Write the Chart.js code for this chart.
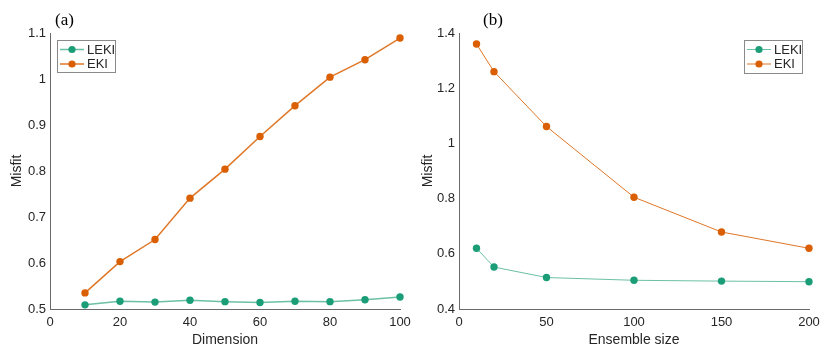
<!DOCTYPE html>
<html>
<head>
<meta charset="utf-8">
<script src="https://cdn.jsdelivr.net/npm/chart.js@4.4.0/dist/chart.umd.min.js"></script>
<style>
  html, body { margin: 0; padding: 0; background: #fff; }
  #wrap { position: relative; width: 831px; height: 355px; }
  .pane { position: absolute; top: 0; height: 355px; }
  #pa { left: 0; width: 420px; }
  #pb { left: 420px; width: 411px; }
</style>
</head>
<body>
<div id="wrap">
  <div class="pane" id="pa"><canvas id="ca" width="420" height="355"></canvas></div>
  <div class="pane" id="pb"><canvas id="cb" width="411" height="355"></canvas></div>
</div>
<script>
// ---- Data (a) ----
const dimX = [10, 20, 30, 40, 50, 60, 70, 80, 90, 100];
const dimLEKI = [0.509, 0.517, 0.515, 0.519, 0.516, 0.514, 0.517, 0.516, 0.520, 0.526];
const dimEKI = [0.535, 0.603, 0.651, 0.741, 0.804, 0.875, 0.942, 1.004, 1.042, 1.089];
const aXTicks = [0, 20, 40, 60, 80, 100];
const aYTicks = [0.5, 0.6, 0.7, 0.8, 0.9, 1.0, 1.1];
const aYLabels = ['0.5', '0.6', '0.7', '0.8', '0.9', '1', '1.1'];

// ---- Data (b) ----
const ensX = [10, 20, 50, 100, 150, 200];
const ensLEKI = [0.620, 0.552, 0.514, 0.504, 0.501, 0.499];
const ensEKI = [1.360, 1.260, 1.061, 0.805, 0.679, 0.620];
const bXTicks = [0, 50, 100, 150, 200];
const bYTicks = [0.4, 0.6, 0.8, 1.0, 1.2, 1.4];
const bYLabels = ['0.4', '0.6', '0.8', '1', '1.2', '1.4'];

const seriesNames = ['LEKI', 'EKI'];
const GREEN = '#1b9e77', GREEN_LINE = 'rgba(27,158,119,0.65)';
const ORANGE = '#d95f02', ORANGE_LINE = 'rgba(217,95,2,0.85)';
const TXT = '#262626';
const AX = '#6a6a6a';
const SANS = '"Liberation Sans", Arial, Helvetica, sans-serif';

function pts(xs, ys) { return xs.map((x, i) => ({ x: x, y: ys[i] })); }

const overlay = {
  id: 'overlay',
  afterDraw(chart, args, opts) {
    const ctx = chart.ctx;
    ctx.save();
    ctx.fillStyle = '#000';
    ctx.font = '17px "Liberation Serif", "Times New Roman", serif';
    ctx.textBaseline = 'middle';
    ctx.textAlign = 'left';
    ctx.fillText(opts.label, opts.labelX, 21);
    const L = opts.legend;
    ctx.fillStyle = '#fff';
    ctx.fillRect(L.x, L.y, L.w, L.h);
    ctx.strokeStyle = '#8a8a8a';
    ctx.lineWidth = 1;
    ctx.strokeRect(L.x + 0.5, L.y + 0.5, L.w, L.h);
    const cols = [[GREEN_LINE, GREEN], [ORANGE_LINE, ORANGE]];
    ctx.font = '13px ' + SANS;
    for (let i = 0; i < seriesNames.length; i++) {
      const cy = L.y + 9.5 + i * 14.5;
      ctx.strokeStyle = cols[i][0];
      ctx.lineWidth = opts.lw;
      ctx.beginPath();
      ctx.moveTo(L.x + 3, cy);
      ctx.lineTo(L.x + 3 + L.line, cy);
      ctx.stroke();
      ctx.fillStyle = cols[i][1];
      ctx.beginPath();
      ctx.arc(L.x + 3 + L.line / 2, cy, 3.6, 0, Math.PI * 2);
      ctx.fill();
      ctx.fillStyle = TXT;
      ctx.fillText(seriesNames[i], L.x + 6 + L.line, cy + 0.5);
    }
    ctx.restore();
  }
};

function makeChart(id, xs, leki, eki, xT, yT, yL, xTitle, yW, padR, lw, ov, yTitlePad) {
  return new Chart(document.getElementById(id), {
    type: 'line',
    data: {
      datasets: [
        { label: seriesNames[0], data: pts(xs, leki), borderColor: GREEN_LINE, backgroundColor: GREEN,
          pointBackgroundColor: GREEN, pointBorderWidth: 0, pointRadius: 3.7, borderWidth: lw, tension: 0, clip: false },
        { label: seriesNames[1], data: pts(xs, eki), borderColor: ORANGE_LINE, backgroundColor: ORANGE,
          pointBackgroundColor: ORANGE, pointBorderWidth: 0, pointRadius: 3.7, borderWidth: lw, tension: 0, clip: false }
      ]
    },
    options: {
      responsive: false,
      animation: false,
      devicePixelRatio: 1,
      layout: { padding: { left: 0, right: padR, top: 33, bottom: 6 } },
      plugins: { legend: { display: false }, tooltip: { enabled: false }, overlay: ov },
      scales: {
        x: {
          type: 'linear', min: xT[0], max: xT[xT.length - 1],
          afterBuildTicks: s => { s.ticks = xT.map(v => ({ value: v })); },
          afterFit: s => { s.height = 40; },
          grid: { drawOnChartArea: false, drawTicks: false },
          border: { display: true, color: AX, width: 1 },
          ticks: { color: TXT, font: { family: SANS, size: 13 }, padding: 6, maxRotation: 0,
                   callback: v => String(v) },
          title: { display: true, text: xTitle, color: TXT, font: { family: SANS, size: 14 }, padding: { top: 0, bottom: 0 } }
        },
        y: {
          type: 'linear', min: yT[0], max: yT[yT.length - 1],
          afterBuildTicks: s => { s.ticks = yT.map(v => ({ value: v })); },
          afterFit: s => { s.width = yW; },
          grid: { drawOnChartArea: false, drawTicks: false },
          border: { display: true, color: AX, width: 1 },
          ticks: { color: TXT, font: { family: SANS, size: 13 }, padding: 4,
                   callback: (v) => { const i = yT.findIndex(t => Math.abs(t - v) < 1e-9); return i >= 0 ? yL[i] : ''; } },
          title: { display: true, text: 'Misfit', color: TXT, font: { family: SANS, size: 14 }, padding: yTitlePad }
        }
      }
    },
    plugins: [overlay]
  });
}

makeChart('ca', dimX, dimLEKI, dimEKI, aXTicks, aYTicks, aYLabels, 'Dimension', 50, 20, 1.5,
  { label: '(a)', labelX: 55, lw: 1.5, legend: { x: 57, y: 40, w: 58, h: 32, line: 24 } }, { top: 9, bottom: 0 });
makeChart('cb', ensX, ensLEKI, ensEKI, bXTicks, bYTicks, bYLabels, 'Ensemble size', 39, 22, 1,
  { label: '(b)', labelX: 63, lw: 1, legend: { x: 324, y: 40, w: 58, h: 33, line: 24 } }, { top: 0, bottom: 0 });
</script>
</body>
</html>
